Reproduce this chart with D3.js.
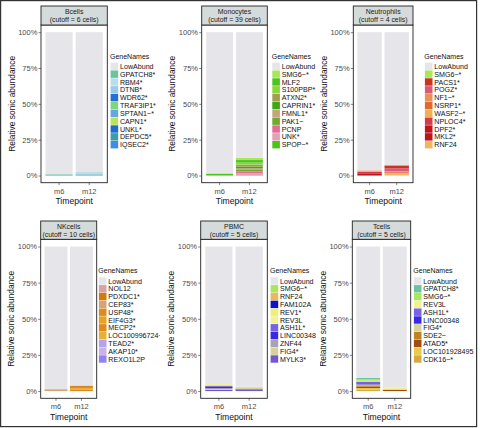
<!DOCTYPE html>
<html><head><meta charset="utf-8">
<script src="https://cdn.jsdelivr.net/npm/d3@7"></script>
<style>body{margin:0;background:#fff}svg{display:block;font-family:"Liberation Sans",Arial,sans-serif}</style>
</head><body><svg id="c" width="480" height="428"></svg>
<script>
const timepoints = ["m6", "m12"];
const yTicks = [0, 25, 50, 75, 100];
const cellTypes = ["Bcells", "Monocytes", "Neutrophils", "NKcells", "PBMC", "Tcells"];
const cutoffs = [6, 39, 4, 10, 5, 5];

const bcellsGenes = ["LowAbund","GPATCH8*","RBM4*","DTNB*","WDR62*","TRAF3IP1*","SPTAN1~*","CAPN1*","UNKL*","DEPDC5*","IQSEC2*"];
const bcellsColors = ["#E6E6EA","#6CC49C","#B8DDEC","#9CCBEA","#2470D6","#80D67E","#63A8E2","#B8E65A","#1E6CD0","#3A9EAA","#3F8EE6"];
const bcellsM6 = [99.0, 0.35, 0.1, 0.1, 0, 0.05, 0, 0, 0, 0.3, 0.1];
const bcellsM12 = [97.6, 0.2, 0.7, 0.6, 0.1, 0.1, 0.2, 0.05, 0.05, 0.2, 0.2];

const monoGenes = ["LowAbund","SMG6~*","MLF2","S100PBP*","ATXN2*","CAPRIN1*","FMNL1*","PAK1~","PCNP","UNK*","SPOP~*"];
const monoColors = ["#E6E6EA","#A8E65A","#4CC61E","#8CD63C","#A49C4E","#3CA818","#C6A47C","#70AA30","#E46C98","#E4A2B0","#48C41A"];
const monoM6 = [98.6, 0, 0, 0, 0, 0, 0, 0, 0, 0, 1.4];
const monoM12 = [87.7, 1.5, 1.8, 1.4, 1.3, 1.2, 1.2, 1.0, 1.2, 1.4, 0.3];

const neutGenes = ["LowAbund","SMG6~*","PACS1*","POGZ*","NF1~*","NSRP1*","WASF2~*","NPLOC4*","DPF2*","MKL2*","RNF24"];
const neutColors = ["#E6E6EA","#A8E65A","#CA341E","#DA5A7A","#E8925A","#E06A30","#EDB250","#D63A4A","#C2141E","#B8161A","#EEB75C"];
const neutM6 = [96.4, 0, 0, 0, 0.4, 0, 0.5, 1.1, 0.5, 1.1, 0];
const neutM12 = [92.9, 0, 2.0, 2.1, 0.3, 0.4, 0, 0.4, 0, 0, 1.9];

const nkGenes = ["LowAbund","NOL12","PDXDC1*","CEP83*","USP48*","EIF4G3*","MECP2*","LOC100996724~*","TEAD2*","AKAP10*","REXO1L2P"];
const nkColors = ["#E6E6EA","#D6A2A2","#D47A0C","#DAA272","#DA8C1E","#E8A222","#E08A1A","#E8B032","#B2A2F2","#CAB2E8","#9282F2"];
const nkM6 = [98.7, 0, 0, 1.3, 0, 0, 0, 0, 0, 0, 0];
const nkM12 = [96.2, 0, 0.9, 0, 1.0, 1.0, 0.9, 0, 0, 0, 0];

const pbmcGenes = ["LowAbund","SMG6~*","RNF24","FAM102A","REV1*","REV3L","ASH1L*","LINC00348","ZNF44","FIG4*","MYLK3*"];
const pbmcColors = ["#E6E6EA","#A8E65A","#EEB75C","#1010C8","#EEEE78","#F2F292","#7862E8","#3A28E2","#A8A2B2","#D6D29C","#7058D2"];
const pbmcM6 = [94.6, 0, 0, 0, 0.6, 1.0, 0.9, 0.8, 0.9, 0.4, 0.8];
const pbmcM12 = [97.0, 0, 0, 0, 0, 0.3, 0, 0, 0, 1.4, 1.3];

const tcGenes = ["LowAbund","GPATCH8*","SMG6~*","REV3L","ASH1L*","LINC00348","FIG4*","SDE2~","ATAD5*","LOC101928495","CDK16~*"];
const tcColors = ["#E6E6EA","#6CC49C","#A8E65A","#F2F292","#7862E8","#3A28E2","#D6D29C","#C28222","#A24C12","#E8CA4C","#D6AA42"];
const tcM6 = [90.9, 0.9, 1.0, 0.6, 1.2, 0.8, 0.6, 1.0, 0.9, 1.0, 1.1];
const tcM12 = [97.3, 0, 0, 1.6, 0, 0, 0, 0.3, 0.8, 0, 0];

const panelGenes = [bcellsGenes, monoGenes, neutGenes, nkGenes, pbmcGenes, tcGenes];
const panelColors = [bcellsColors, monoColors, neutColors, nkColors, pbmcColors, tcColors];
const panelM6 = [bcellsM6, monoM6, neutM6, nkM6, pbmcM6, tcM6];
const panelM12 = [bcellsM12, monoM12, neutM12, nkM12, pbmcM12, tcM12];

// layout (pixels)
const layout = [
  {col:0, x0:41,    x1:107.3, lx:110,   row:0},
  {col:1, x0:201.7, x1:267.3, lx:271.7, row:0},
  {col:2, x0:353.3, x1:413,   lx:424.3, row:0},
  {col:0, x0:40.7,  x1:96.7,  lx:98.3,  row:1},
  {col:1, x0:200.7, x1:267.3, lx:270,   row:1},
  {col:2, x0:352.3, x1:410.7, lx:413.3, row:1}
];
const rows = [
  {stripTop:6,   stripBot:25,    plotBot:182.7, legTitle:59,  key0:66.3, keyStep:7.84},
  {stripTop:221, stripBot:239.3, plotBot:398.3, legTitle:273, key0:281,  keyStep:7.8}
];

const svg = d3.select("#c");
const defs = svg.append("defs");

cellTypes.forEach((ct, i) => {
  const L = layout[i], R = rows[L.row];
  const genes = panelGenes[i], colors = panelColors[i];
  const colX = L.col * 160;
  defs.append("clipPath").attr("id", "clip" + i)
    .append("rect").attr("x", colX).attr("y", L.row ? 212 : 0).attr("width", 160).attr("height", 214);
  const g = svg.append("g").attr("clip-path", `url(#clip${i})`);

  const x = d3.scaleBand().domain(timepoints).range([L.x0, L.x1]).paddingInner(0.1).paddingOuter(0.15);
  const y = d3.scaleLinear().domain([-5, 105]).range([R.plotBot, R.stripBot]);

  const rowsData = timepoints.map((t, k) => {
    const vals = k === 0 ? panelM6[i] : panelM12[i];
    const o = {tp: t};
    genes.forEach((gn, j) => o[gn] = vals[j]);
    return o;
  });
  const keys = genes.slice().reverse(); // first gene on top
  const stacked = d3.stack().keys(keys)(rowsData);

  g.append("rect").attr("x", L.x0).attr("y", R.stripBot).attr("width", L.x1 - L.x0)
    .attr("height", R.plotBot - R.stripBot).attr("fill", "#fff");

  stacked.forEach(layer => {
    const c = colors[genes.indexOf(layer.key)];
    g.selectAll(null).data(layer.filter(d => d[1] - d[0] > 0)).enter().append("rect")
      .attr("x", d => x(d.data.tp)).attr("width", x.bandwidth())
      .attr("y", d => y(d[1])).attr("height", d => y(d[0]) - y(d[1]))
      .attr("fill", c);
  });

  g.append("rect").attr("x", L.x0).attr("y", R.stripBot).attr("width", L.x1 - L.x0)
    .attr("height", R.plotBot - R.stripBot).attr("fill", "none").attr("stroke", "#222").attr("stroke-width", 0.9);

  g.append("rect").attr("x", L.x0).attr("y", R.stripTop).attr("width", L.x1 - L.x0)
    .attr("height", R.stripBot - R.stripTop).attr("fill", "#D5DADA").attr("stroke", "#222").attr("stroke-width", 0.9);
  const cx = (L.x0 + L.x1) / 2;
  g.append("text").attr("x", cx).attr("y", R.stripTop + 8).attr("text-anchor", "middle")
    .attr("font-size", 6.9).attr("fill", "#1a1a1a").text(ct);
  g.append("text").attr("x", cx).attr("y", R.stripTop + 15.6).attr("text-anchor", "middle")
    .attr("font-size", 6.9).attr("fill", "#1a1a1a").text(`(cutoff = ${cutoffs[i]} cells)`);

  const ya = g.append("g").attr("transform", `translate(${L.x0},0)`)
    .call(d3.axisLeft(y).tickValues(yTicks).tickFormat(d => d + "%").tickSize(2.5).tickPadding(1.2));
  ya.select(".domain").remove();
  ya.selectAll("line").attr("stroke", "#333").attr("stroke-width", 0.6);
  ya.selectAll("text").attr("font-size", 7.5).attr("fill", "#4D4D4D").attr("font-family", null);

  const xa = g.append("g").attr("transform", `translate(0,${R.plotBot})`)
    .call(d3.axisBottom(x).tickSize(2.5).tickPadding(3.2));
  xa.select(".domain").remove();
  xa.selectAll("line").attr("stroke", "#333").attr("stroke-width", 0.6);
  xa.selectAll("text").attr("font-size", 7.5).attr("fill", "#4D4D4D").attr("font-family", null);

  g.append("text").attr("x", cx).attr("y", R.plotBot + 21.5).attr("text-anchor", "middle")
    .attr("font-size", 8.6).attr("fill", "#111").text("Timepoint");
  const yc = (R.stripBot + R.plotBot) / 2;
  g.append("text").attr("transform", `translate(${L.x0 - 26.5},${yc}) rotate(-90)`)
    .attr("text-anchor", "middle").attr("font-size", 8.4).attr("fill", "#111").text("Relative sonic abundance");

  g.append("text").attr("x", L.lx).attr("y", R.legTitle).attr("font-size", 7)
    .attr("fill", "#111").text("GeneNames");
  genes.forEach((gn, j) => {
    const ky = R.key0 + j * R.keyStep;
    g.append("rect").attr("x", L.lx + 0.6).attr("y", ky - 3.7).attr("width", 7.6).attr("height", 7.4)
      .attr("fill", colors[j]);
    g.append("text").attr("x", L.lx + 10).attr("y", ky + 2.6).attr("font-size", 7.1)
      .attr("fill", "#111").text(gn);
  });
});

svg.append("rect").attr("x", 0.6).attr("y", 0.6).attr("width", 476).attr("height", 426)
  .attr("fill", "none").attr("stroke", "#333").attr("stroke-width", 1.2);
</script></body></html>
